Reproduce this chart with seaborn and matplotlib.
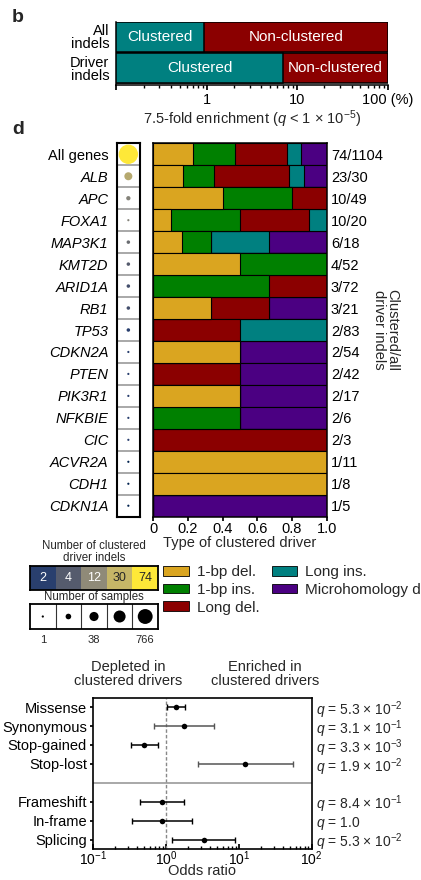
import numpy as np
import pandas as pd
import matplotlib
matplotlib.use("Agg")
import matplotlib.pyplot as plt
import seaborn as sns
from matplotlib.colors import LogNorm
from matplotlib.patches import Patch
from matplotlib.ticker import LogLocator, NullFormatter, FixedLocator

# ---------------- data ----------------
# panel b
b_groups = ["All\nindels", "Driver\nindels"]
b_clustered_pct = [0.93, 7.0]
b_total_pct = [100, 100]

# panel d
genes = ["All genes", "ALB", "APC", "FOXA1", "MAP3K1", "KMT2D", "ARID1A", "RB1", "TP53",
         "CDKN2A", "PTEN", "PIK3R1", "NFKBIE", "CIC", "ACVR2A", "CDH1", "CDKN1A"]
del_1bp = [17, 4, 4, 1, 1, 2, 0, 1, 0, 1, 0, 1, 0, 0, 1, 1, 0]
ins_1bp = [18, 4, 4, 4, 1, 2, 2, 0, 0, 0, 0, 0, 1, 0, 0, 0, 0]
long_del = [22, 10, 2, 4, 0, 0, 1, 1, 1, 0, 1, 0, 0, 2, 0, 0, 0]
long_ins = [6, 2, 0, 1, 2, 0, 0, 0, 1, 0, 0, 0, 0, 0, 0, 0, 0]
mh_del = [11, 3, 0, 0, 2, 0, 0, 1, 0, 1, 1, 1, 1, 0, 0, 0, 1]
all_driver_indels = [1104, 30, 49, 20, 18, 52, 72, 21, 83, 54, 42, 17, 6, 3, 11, 8, 5]
n_samples = [8000, 21, 3, 1, 2, 2, 2, 2, 2, 1, 1, 1, 1, 1, 1, 1, 1]

cat_names = ["1-bp del.", "1-bp ins.", "Long del.", "Long ins.", "Microhomology del."]
cat_colors = ["#DAA520", "#008000", "#8B0000", "#008080", "#4B0082"]

legend_counts = [2, 4, 12, 30, 74]
legend_samples = [1, 6, 38, 170, 766]
legend_sample_labels = ["1", "", "38", "", "766"]

# forest plot
fp_labels = ["Missense", "Synonymous", "Stop-gained", "Stop-lost", "Frameshift", "In-frame", "Splicing"]
fp_group = [0, 0, 0, 0, 1, 1, 1]
fp_or = [1.36, 1.77, 0.50, 12.3, 0.87, 0.88, 3.32]
fp_lo = [1.02, 0.69, 0.33, 2.78, 0.44, 0.34, 1.21]
fp_hi = [1.80, 4.5, 0.77, 55.6, 1.75, 2.3, 8.9]
fp_q = [r"$q$ = 5.3 × 10$^{-2}$", r"$q$ = 3.1 × 10$^{-1}$", r"$q$ = 3.3 × 10$^{-3}$",
        r"$q$ = 1.9 × 10$^{-2}$", r"$q$ = 8.4 × 10$^{-1}$", r"$q$ = 1.0",
        r"$q$ = 5.3 × 10$^{-2}$"]
fp_bar_colors = ["black", "#555555", "black", "#555555", "black", "black", "black"]

# ---------------- style ----------------
FS = 10.5
sns.set_theme(style="ticks")
plt.rcParams["font.family"] = ["Liberation Sans", "DejaVu Sans"]
plt.rcParams.update({
    "mathtext.fontset": "custom",
    "mathtext.rm": "Liberation Sans",
    "mathtext.it": "Liberation Sans:italic",
    "mathtext.bf": "Liberation Sans:bold",
    "font.size": FS,
    "axes.linewidth": 1.1,
    "axes.edgecolor": "black",
    "xtick.color": "black",
    "ytick.color": "black",
    "xtick.labelsize": FS,
    "ytick.labelsize": FS,
    "xtick.major.size": 3.5,
    "xtick.minor.size": 2,
    "ytick.major.size": 3,
    "xtick.direction": "out",
})

W, H = 421, 880
fig = plt.figure(figsize=(W / 100, H / 100), dpi=100)


def px_axes(x0, y0, x1, y1):
    return fig.add_axes([x0 / W, 1 - y1 / H, (x1 - x0) / W, (y1 - y0) / H])


# ---------------- panel b ----------------
fig.text(12 / W, 1 - 18 / H, "b", fontsize=14, fontweight="bold", va="center", ha="left")
axb = px_axes(116.3, 22, 387.7, 85)
sns.barplot(x=b_total_pct, y=b_groups, color="#8B0000", saturation=1, width=0.94,
            edgecolor="black", linewidth=1.1, orient="h", ax=axb)
sns.barplot(x=b_clustered_pct, y=b_groups, color="#008080", saturation=1, width=0.94,
            edgecolor="black", linewidth=1.1, orient="h", ax=axb)
axb.set_xscale("log")
axb.set_xlim(0.1, 100)
axb.set_ylim(1.54, -0.48)
axb.xaxis.set_major_locator(FixedLocator([0.1, 1, 10, 100]))
axb.set_xticklabels(["", "1", "10", "100 (%)"])
axb.xaxis.set_minor_locator(LogLocator(base=10, subs=np.arange(2, 10)))
axb.xaxis.set_minor_formatter(NullFormatter())
axb.tick_params(axis="x", pad=2)
axb.set_xlabel(r"7.5-fold enrichment ($q$ < 1 × 10$^{-5}$)", fontsize=FS, labelpad=1)
axb.set_ylabel("")
axb.tick_params(axis="y", length=0, pad=5)
for lab in axb.get_yticklabels():
    lab.set_linespacing(0.9)
sns.despine(ax=axb, top=True, right=True)
for i, c in enumerate(b_clustered_pct):
    axb.text(np.sqrt(0.1 * c), i, "Clustered", color="white", ha="center", va="center", fontsize=11)
    axb.text(np.sqrt(c * b_total_pct[i]), i, "Non-clustered", color="white", ha="center",
             va="center", fontsize=11)

# ---------------- panel d ----------------
fig.text(12 / W, 1 - 130 / H, "d", fontsize=14, fontweight="bold", va="center", ha="left")

df = pd.DataFrame({"gene": genes, cat_names[0]: del_1bp, cat_names[1]: ins_1bp,
                   cat_names[2]: long_del, cat_names[3]: long_ins, cat_names[4]: mh_del})
df["clustered"] = df[cat_names].sum(axis=1)
cum = df[cat_names].cumsum(axis=1).div(df["clustered"], axis=0)

axd = px_axes(153.3, 143.3, 326.7, 516.7)
for name, col in reversed(list(zip(cat_names, cat_colors))):
    sns.barplot(x=cum[name].values, y=genes, color=col, saturation=1, width=1.0,
                edgecolor="black", linewidth=0.8, orient="h", ax=axd)
axd.set_xlim(0, 1)
axd.set_ylim(len(genes) - 0.5, -0.5)
axd.set_xticks([0, 0.2, 0.4, 0.6, 0.8, 1.0])
axd.set_xticklabels(["0", "0.2", "0.4", "0.6", "0.8", "1.0"])
axd.set_xlabel("Type of clustered driver", fontsize=FS, labelpad=0)
axd.set_ylabel("")
axd.yaxis.tick_right()
axd.set_yticks(range(len(genes)))
axd.set_yticklabels([f"{c}/{t}" for c, t in zip(df["clustered"], all_driver_indels)])
axd.tick_params(axis="y", length=0, pad=3)
axd.tick_params(axis="x", length=3, pad=1)
fig.text(386 / W, 1 - 330 / H, "Clustered/all\ndriver indels", rotation=270,
         ha="center", va="center", fontsize=FS, multialignment="center", linespacing=0.95)

# bubble column
axc = px_axes(116.7, 143.3, 140, 516.7)
sizes_pt2 = [((2.2 + 4.4 * np.log10(n)) * 0.72) ** 2 for n in n_samples]
sns.scatterplot(x=[0.5] * len(genes), y=list(range(len(genes))), hue=df["clustered"].values,
                palette="cividis", hue_norm=LogNorm(1, 74), s=sizes_pt2, linewidth=0,
                legend=False, ax=axc)
axc.set_xlim(0, 1)
axc.set_ylim(len(genes) - 0.5, -0.5)
for i in range(len(genes) - 1):
    axc.axhline(i + 0.5, color="#9a9a9a", lw=1.2)
axc.set_xticks([])
axc.set_yticks(range(len(genes)))
axc.set_yticklabels(genes)
for lab in axc.get_yticklabels():
    if lab.get_text() != "All genes":
        lab.set_style("italic")
axc.tick_params(axis="y", length=0, pad=6)
axc.set_xlabel("")
axc.set_ylabel("")
for s in axc.spines.values():
    s.set_linewidth(1.5)

# colour legend
fig.text(94 / W, 1 - 552 / H, "Number of clustered\ndriver indels", ha="center", va="center",
         fontsize=8.3, linespacing=0.95)
axh = px_axes(30, 566, 158, 590)
sns.heatmap(np.array([legend_counts]), cmap="cividis", norm=LogNorm(1, 74), annot=True,
            fmt="d", annot_kws={"fontsize": 9}, cbar=False, xticklabels=False,
            yticklabels=False, ax=axh)
for s in axh.spines.values():
    s.set_visible(True)
    s.set_linewidth(1.3)

# size legend
fig.text(94 / W, 1 - 597 / H, "Number of samples", ha="center", va="center", fontsize=8.3)
axs = px_axes(30, 604, 158, 629)
sns.scatterplot(x=np.arange(len(legend_samples)) + 0.5, y=[0.5] * len(legend_samples),
                color="black", s=[((2.2 + 4.4 * np.log10(n)) * 0.72) ** 2 for n in legend_samples],
                linewidth=0, legend=False, ax=axs)
axs.set_xlim(0, len(legend_samples))
axs.set_ylim(0, 1)
for k in range(1, len(legend_samples)):
    axs.axvline(k, color="#333333", lw=0.8)
axs.set_xticks([])
axs.set_yticks([])
for s in axs.spines.values():
    s.set_linewidth(1.3)
for k, lab in enumerate(legend_sample_labels):
    axs.text(k + 0.5, -0.45, lab, ha="center", va="center", fontsize=8)

# category legend
handles = [Patch(facecolor=c, edgecolor="black", linewidth=0.6, label=n)
           for n, c in zip(cat_names, cat_colors)]
fig.legend(handles=handles, ncol=2, frameon=False, fontsize=11,
           loc="upper left", bbox_to_anchor=(160 / W, 1 - 562 / H),
           handlelength=1.7, handleheight=0.6, handletextpad=0.5,
           columnspacing=0.8, labelspacing=0.25, borderaxespad=0, borderpad=0.2)

# ---------------- forest plot ----------------
axf = px_axes(93.3, 697.7, 311.7, 849)
ypos = [i + g for i, g in enumerate(fp_group)]
axf.axvline(1, color="#888888", lw=1, ls=(0, (2.5, 1.5)), zorder=1)
axf.axhline(4, color="#999999", lw=1.2, zorder=1)
for y, o, lo, hi, col in zip(ypos, fp_or, fp_lo, fp_hi, fp_bar_colors):
    axf.errorbar([o], [y], xerr=[[o - lo], [hi - o]], fmt="none", ecolor=col,
                 elinewidth=1.1, capsize=2.5, capthick=1.0, zorder=2)
sns.scatterplot(x=fp_or, y=ypos, color="black", s=16, linewidth=0, legend=False, ax=axf, zorder=3)
axf.set_xscale("log")
axf.set_xlim(0.1, 100)
axf.set_ylim(7.5, -0.5)
axf.xaxis.set_major_locator(FixedLocator([0.1, 1, 10, 100]))
axf.set_xticklabels([r"10$^{-1}$", r"10$^{0}$", r"10$^{1}$", r"10$^{2}$"])
axf.xaxis.set_minor_locator(LogLocator(base=10, subs=np.arange(2, 10)))
axf.xaxis.set_minor_formatter(NullFormatter())
axf.set_yticks(ypos)
axf.set_yticklabels(fp_labels)
axf.tick_params(axis="y", length=2.5, pad=2)
axf.tick_params(axis="x", which="both", direction="in", pad=0, labelsize=10)
axf.set_xlabel("Odds ratio", fontsize=FS, va="top")
axf.xaxis.set_label_coords(0.5, -0.1)
axf.set_ylabel("")
for s in axf.spines.values():
    s.set_linewidth(1.2)
for y, q in zip(ypos, fp_q):
    axf.text(1.02, y + 0.15, q, transform=axf.get_yaxis_transform(), ha="left", va="center",
             fontsize=10, clip_on=False)
fig.text(128 / W, 1 - 674 / H, "Depleted in\nclustered drivers", ha="center", va="center",
         fontsize=FS, linespacing=1.0)
fig.text(265 / W, 1 - 674 / H, "Enriched in\nclustered drivers", ha="center", va="center",
         fontsize=FS, linespacing=1.0)

fig.savefig("out.png", dpi=100)
